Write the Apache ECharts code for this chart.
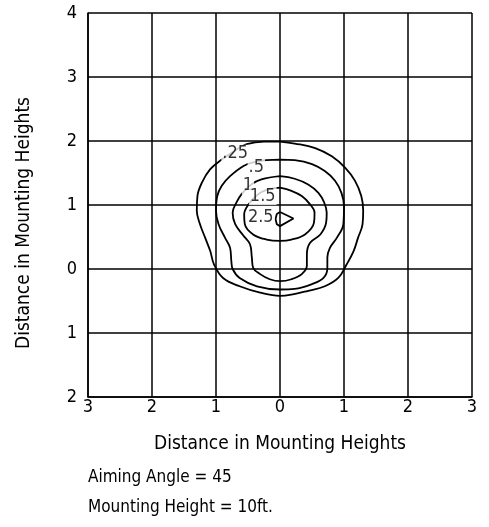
<!DOCTYPE html>
<html><head><meta charset="utf-8">
<script src="https://cdn.jsdelivr.net/npm/echarts@6/dist/echarts.min.js"></script>
<style>html,body{margin:0;padding:0;background:#fff}#c{width:489px;height:527px}</style>
</head><body><div id="c"></div>
<script>
// axis ranges (distance in mounting heights)
const xTicks = [-3, -2, -1, 0, 1, 2, 3];
const yTicks = [-2, -1, 0, 1, 2, 3, 4];
// isofootcandle contours [x, y]
const c025 = [[0,1.99],[0.23,1.96],[0.55,1.89],[0.81,1.76],[1.02,1.58],[1.17,1.38],[1.27,1.14],[1.30,0.91],[1.29,0.70],[1.22,0.49],[1.15,0.28],[1.04,0.07],[0.91,-0.14],[0.70,-0.27],[0.44,-0.34],[0.18,-0.40],[0,-0.42],[-0.31,-0.37],[-0.63,-0.27],[-0.89,-0.14],[-1.03,0.07],[-1.09,0.28],[-1.17,0.49],[-1.25,0.70],[-1.30,0.91],[-1.29,1.14],[-1.22,1.35],[-1.09,1.56],[-0.91,1.71],[-0.72,1.84],[-0.52,1.95],[-0.25,1.99],[0,1.99]];
const c05 = [[0,1.71],[0.23,1.70],[0.50,1.64],[0.70,1.53],[0.86,1.38],[0.96,1.19],[1.0,0.98],[0.99,0.70],[0.89,0.49],[0.78,0.33],[0.74,0.18],[0.74,0.02],[0.68,-0.14],[0.49,-0.24],[0.23,-0.31],[0,-0.32],[-0.36,-0.27],[-0.63,-0.14],[-0.74,0],[-0.76,0.12],[-0.78,0.33],[-0.86,0.49],[-0.96,0.70],[-1.0,0.91],[-0.98,1.14],[-0.91,1.30],[-0.78,1.45],[-0.57,1.61],[-0.40,1.67],[-0.21,1.70],[0,1.71]];
const c1 = [[0,1.45],[0.23,1.41],[0.44,1.32],[0.60,1.19],[0.69,1.04],[0.73,0.88],[0.72,0.72],[0.63,0.54],[0.47,0.41],[0.42,0.23],[0.42,0.05],[0.34,-0.08],[0.18,-0.16],[0,-0.19],[-0.16,-0.16],[-0.31,-0.08],[-0.42,0.02],[-0.44,0.18],[-0.47,0.39],[-0.57,0.52],[-0.70,0.70],[-0.74,0.88],[-0.68,1.04],[-0.60,1.17],[-0.45,1.32],[-0.29,1.40],[0,1.45]];
const c15 = [[0,1.27],[0.18,1.22],[0.34,1.14],[0.47,1.01],[0.54,0.88],[0.53,0.72],[0.39,0.54],[0.18,0.46],[0,0.44],[-0.21,0.46],[-0.42,0.54],[-0.55,0.70],[-0.56,0.85],[-0.49,1.01],[-0.35,1.16],[-0.2,1.24],[0,1.27]];
const c25 = [[0,0.89],[0.21,0.79],[0,0.67],[-0.05,0.70],[-0.07,0.78],[-0.05,0.86],[0,0.89]];
// contour labels [x, y, text]
const contourLabels = [[-0.70,1.80,'.25'],[-0.37,1.59,'.5'],[-0.50,1.30,'1'],[-0.27,1.14,'1.5'],[-0.30,0.81,'2.5']];
const xTitle = 'Distance in Mounting Heights';
const yTitle = 'Distance in Mounting Heights';
const notes = ['Aiming Angle = 45', 'Mounting Height = 10ft.'];

const FONT = "'Liberation Sans Narrow','Arial Narrow','DejaVu Sans Condensed',sans-serif";
const chart = echarts.init(document.getElementById('c'), null, {renderer:'canvas'});
const lineStyle = {color:'#000', width:1.8};
function contour(d, smooth){
  return {type:'line', data:d, smooth:smooth, symbol:'none', lineStyle:lineStyle, silent:true, z:3};
}
chart.setOption({
  animation:false,
  backgroundColor:'#fff',
  grid:{left:88, top:13, width:384, height:384},
  xAxis:{type:'value', min:xTicks[0], max:xTicks[xTicks.length-1], interval:1,
    name:xTitle, nameLocation:'middle', nameGap:38,
    nameTextStyle:{fontFamily:FONT, fontSize:19, color:'#000'},
    axisLine:{onZero:false, lineStyle:{color:'#000', width:1.5}}, axisTick:{show:false},
    axisLabel:{fontFamily:FONT, fontSize:18, color:'#000', margin:1, formatter:v=>String(Math.abs(v))},
    splitLine:{lineStyle:{color:'#000', width:1.5}}},
  yAxis:{type:'value', min:yTicks[0], max:yTicks[yTicks.length-1], interval:1,
    axisLine:{show:true, onZero:false, lineStyle:{color:'#000', width:1.5}}, axisTick:{show:false},
    axisLabel:{fontFamily:FONT, fontSize:18, color:'#000', margin:11, formatter:v=>String(Math.abs(v))},
    splitLine:{lineStyle:{color:'#000', width:1.5}}},
  graphic:[
    {type:'text', x:24, y:223, rotation:Math.PI/2,
     style:{text:yTitle, font:'19px '+FONT, fill:'#000', textAlign:'center', textVerticalAlign:'middle'}},
    {type:'text', left:88, top:469, style:{text:notes[0], font:'17px '+FONT, fill:'#000'}},
    {type:'text', left:88, top:499, style:{text:notes[1], font:'17px '+FONT, fill:'#000'}}
  ],
  series:[
    contour(c025, 0.4), contour(c05, 0.4), contour(c1, 0.4), contour(c15, 0.4), contour(c25, false),
    {type:'scatter', data:contourLabels, symbolSize:0, silent:true, z:10,
     label:{show:true, position:'inside', formatter:p=>p.value[2], fontFamily:FONT, fontSize:18, color:'#000',
       backgroundColor:'#fff', padding:[0,1]}}
  ]
});
</script></body></html>
